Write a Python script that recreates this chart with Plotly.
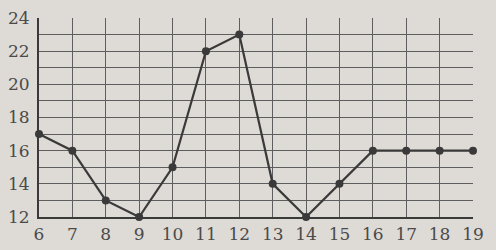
import plotly.graph_objects as go

hours = [6, 7, 8, 9, 10, 11, 12, 13, 14, 15, 16, 17, 18, 19]
values = [17, 16, 13, 12, 15, 22, 23, 14, 12, 14, 16, 16, 16, 16]
x_ticks = list(range(6, 20))
y_ticks = [12, 14, 16, 18, 20, 22, 24]

bg = "#dedad5"
ink = "#3a3a3a"

fig = go.Figure()
fig.add_trace(go.Scatter(
    x=hours, y=values, mode="lines+markers",
    line=dict(color=ink, width=2.2),
    marker=dict(color=ink, size=8),
    cliponaxis=False,
    showlegend=False,
))

fig.update_layout(
    width=496, height=250,
    margin=dict(l=39, r=23, t=18, b=33),
    paper_bgcolor=bg, plot_bgcolor=bg,
    font=dict(family="DejaVu Serif", size=17, color="#4a4a4a"),
)
fig.update_xaxes(
    range=[6, 19], tickvals=x_ticks, ticktext=[str(v) for v in x_ticks],
    showgrid=True, gridcolor="#5e5e5e", gridwidth=1,
    showline=True, linecolor=ink, linewidth=2, mirror=False,
    zeroline=False, ticks="", ticklabelstandoff=1, automargin=False,
)
fig.update_yaxes(
    range=[12, 24], tickvals=list(range(12, 25)),
    ticktext=[str(v) if v in y_ticks else "" for v in range(12, 25)],
    showgrid=True, gridcolor="#5e5e5e", gridwidth=1,
    showline=True, linecolor=ink, linewidth=2,
    zeroline=False, ticks="", ticklabelstandoff=4, automargin=False,
)
fig.write_html("out.html")
